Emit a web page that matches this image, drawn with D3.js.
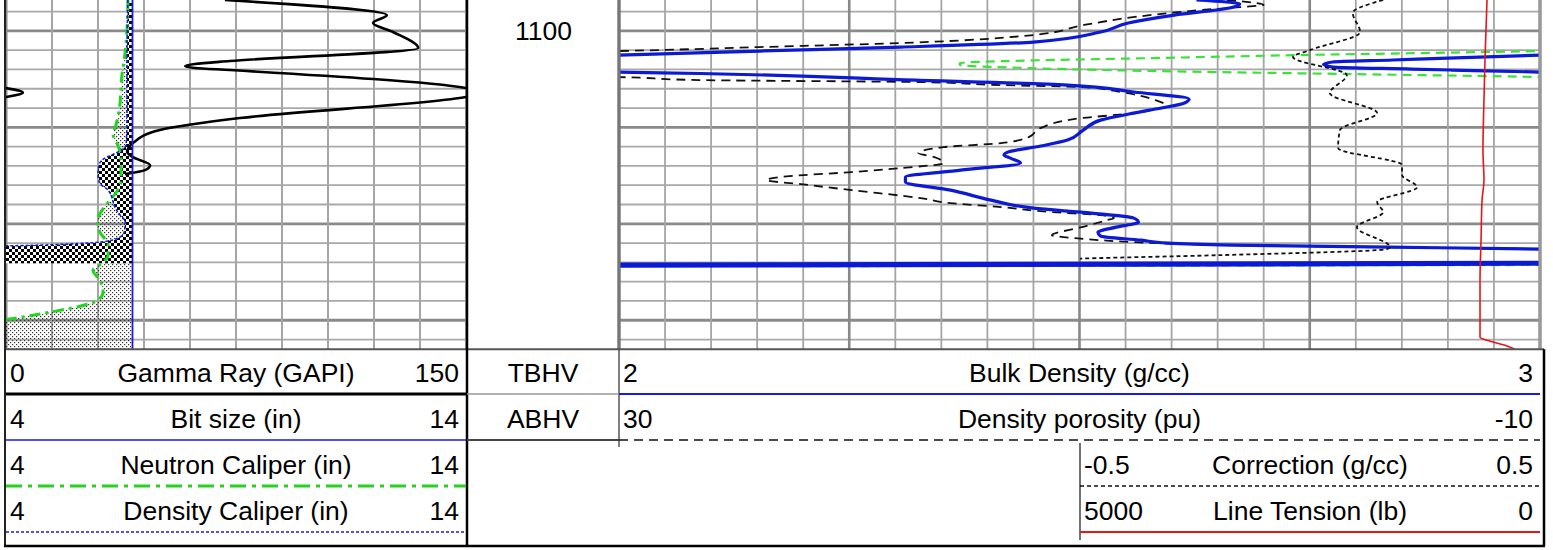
<!DOCTYPE html>
<html><head><meta charset="utf-8">
<script src="https://cdn.jsdelivr.net/npm/d3@7/dist/d3.min.js"></script>
<style>
html,body{margin:0;padding:0;background:#fff;overflow:hidden}
text{font-family:"Liberation Sans",Arial,sans-serif;font-size:26.5px;fill:#000}
</style>
</head><body>
<svg id="c" width="1553" height="550"></svg>
<script>
// ---------------- DATA ----------------
const depthRange = [1096.8, 1133.0];
const depthLabels = [1100];

// [depth (ft), value]
const gammaRay = [
  [1096.80,71.4],[1098.36,124.2],[1099.19,119.7],[1100.12,126.2],[1101.78,134.4],
  [1103.13,73.0],[1103.44,61.6],[1103.65,58.4],[1103.85,61.6],[1104.06,73.0],
  [1105.93,150.0],[1106.40,155.5],[1106.86,150.0],[1109.04,76.3],[1110.28,50.2],
  [1111.63,41.4],[1112.57,39.5],[1113.09,41.4],[1113.92,47.0],[1114.43,45.3],[1114.85,38.8]
];
const bitSize = [[1096.8,6.75],[1133.0,6.75]];
const densityCaliper = [
  [1096.80,6.65],[1103.02,6.63],[1109.25,6.63],[1111.84,6.61],[1112.57,6.43],
  [1113.19,6.15],[1113.92,6.02],[1114.95,6.00],[1115.78,6.04],[1116.51,6.22],
  [1117.23,6.30],[1118.07,6.35],[1118.79,6.43],[1119.83,6.59],[1120.87,6.57],
  [1121.49,6.43],[1121.90,6.04],[1122.21,4.74],[1122.42,3.00],[1124.08,3.00]
];
const neutronCaliper = [
  [1096.80,6.65],[1099.91,6.63],[1103.02,6.57],[1104.58,6.52],[1106.14,6.50],
  [1108.21,6.46],[1109.77,6.39],[1110.80,6.33],[1111.84,6.43],[1113.40,6.50],
  [1115.47,6.50],[1116.51,6.43],[1117.55,6.26],[1118.58,6.09],[1119.83,5.98],
  [1120.87,6.04],[1122.21,6.22],[1123.25,6.22],[1124.08,6.09],[1124.81,5.89],
  [1125.84,6.04],[1127.09,6.11],[1127.92,6.00],[1128.54,5.61],[1129.16,4.96],
  [1129.79,4.20],[1130.20,3.65],[1133.00,3.65]
];
const bulkDensity = [
  [1096.80,2.627],[1097.21,2.674],[1097.63,2.663],[1098.36,2.603],[1099.19,2.553],
  [1100.12,2.523],[1101.16,2.450],[1101.68,2.306],[1102.09,2.153],[1102.51,2.000],
  [1102.82,1.900],[1103.02,1.840],[1103.23,1.775],[1103.49,1.765],[1103.75,1.775],
  [1103.96,1.860],[1104.06,1.904],[1104.27,2.000],[1104.42,2.088],[1105.10,2.322],
  [1105.62,2.487],[1106.34,2.559],[1107.07,2.619],[1107.48,2.614],[1108.00,2.589],
  [1108.52,2.559],[1109.25,2.523],[1110.28,2.504],[1111.32,2.487],[1111.94,2.458],
  [1112.57,2.422],[1112.88,2.418],[1113.19,2.425],[1113.71,2.436],[1114.43,2.371],
  [1115.16,2.311],[1115.68,2.311],[1116.51,2.360],[1117.55,2.404],[1118.38,2.450],
  [1118.89,2.513],[1119.41,2.559],[1119.83,2.564],[1120.35,2.540],[1120.87,2.520],
  [1121.28,2.523],[1121.70,2.567],[1122.01,2.596],[1122.21,2.665],[1122.42,2.836],
  [1122.63,3.000],[1122.84,3.060],[1123.98,3.060],[1124.39,1.000]
];
const densityPorosity = [
  [1096.80,3.6],[1097.32,2.0],[1097.53,3.0],[1097.84,4.7],[1098.56,7.6],[1099.39,9.8],
  [1100.43,12.0],[1101.26,17.8],[1101.68,23.9],[1102.09,30.0],[1102.51,40.5],
  [1102.82,46.8],[1103.13,53.2],[1103.34,55.2],[1103.54,55.2],[1103.85,52.3],
  [1104.16,46.9],[1104.48,38.2],[1104.79,30.0],[1105.10,26.5],[1105.31,16.9],
  [1105.62,13.4],[1105.82,9.9],[1106.34,8.2],[1107.17,6.7],[1107.80,6.2],
  [1108.21,6.9],[1108.52,7.6],[1109.04,9.9],[1110.08,11.7],[1111.01,12.2],
  [1111.63,13.4],[1112.05,15.9],[1112.67,17.0],[1113.09,16.3],[1113.71,15.9],
  [1114.23,17.8],[1114.64,19.9],[1115.06,22.6],[1115.47,23.6],[1115.89,22.1],
  [1116.51,19.9],[1117.34,16.9],[1117.86,15.6],[1118.27,13.4],[1118.79,11.2],
  [1119.10,9.1],[1119.41,8.5],[1119.62,8.8],[1120.35,9.9],[1121.18,11.2],
  [1121.49,10.2],[1121.70,9.1],[1121.90,7.6],[1122.21,3.4],[1122.42,-3.4],
  [1122.63,-10.1],[1122.84,-12.0],[1123.98,-12.0],[1124.39,62.0]
];
const correction = [
  [1096.80,0.159],[1098.15,0.093],[1100.12,0.109],[1101.99,0.000],[1102.71,-0.037],
  [1104.58,0.080],[1106.45,0.043],[1108.52,0.146],[1110.28,0.065],[1112.15,0.061],
  [1113.92,0.200],[1114.95,0.200],[1116.20,0.233],[1117.75,0.146],[1118.79,0.159],
  [1120.35,0.102],[1122.42,0.174],[1122.63,0.167],[1123.25,-0.196],[1123.61,-0.500],
  [1123.77,-0.600]
];
const lineTension = [
  [1096.80,576],[1099.91,587],[1103.02,598],[1107.17,609],[1112.36,620],[1115.47,609],
  [1117.55,630],[1121.70,641],[1125.84,652],[1129.99,652],[1131.76,652],[1132.17,543],
  [1132.59,380],[1133.00,272]
];

const leftHeader = [["0","Gamma Ray (GAPI)","150"],["4","Bit size (in)","14"],
                    ["4","Neutron Caliper (in)","14"],["4","Density Caliper (in)","14"]];
const midHeader = ["TBHV","ABHV"];
const rightHeader = [["2","Bulk Density (g/cc)","3"],["30","Density porosity (pu)","-10"]];
const halfHeader = [["-0.5","Correction (g/cc)","0.5"],["5000","Line Tension (lb)","0"]];

// ---------------- LAYOUT ----------------
const svg = d3.select("#c");
const LT = {x0:6, x1:466}, RT = {x0:619, x1:1540}, HT = {x0:1080, x1:1540};
const PB = 349.2;
const y = d3.scaleLinear().domain(depthRange).range([0, PB]);
const grX = d3.scaleLinear().domain([0,150]).range([LT.x0, LT.x1]);
const calX = d3.scaleLinear().domain([4,14]).range([LT.x0, LT.x1]);
const rhobX = d3.scaleLinear().domain([2,3]).range([RT.x0, RT.x1]);
const dphiX = d3.scaleLinear().domain([30,-10]).range([RT.x0, RT.x1]);
const drhoX = d3.scaleLinear().domain([-0.5,0.5]).range([HT.x0, HT.x1]);
const tensX = d3.scaleLinear().domain([5000,0]).range([HT.x0, HT.x1]);

const defs = svg.append("defs");
function clip(id, x0, x1){
  defs.append("clipPath").attr("id", id).append("rect")
    .attr("x", x0).attr("y", 0).attr("width", x1 - x0).attr("height", PB);
}
clip("clipL", LT.x0, LT.x1); clip("clipR", RT.x0, RT.x1); clip("clipH", HT.x0, HT.x1);

const chk = defs.append("pattern").attr("id","chk").attr("patternUnits","userSpaceOnUse")
  .attr("width",6).attr("height",6);
chk.append("rect").attr("width",6).attr("height",6).attr("fill","#fff");
chk.append("rect").attr("width",3).attr("height",3).attr("fill","#000");
chk.append("rect").attr("x",3).attr("y",3).attr("width",3).attr("height",3).attr("fill","#000");
const stp = defs.append("pattern").attr("id","stp").attr("patternUnits","userSpaceOnUse")
  .attr("width",4).attr("height",4);
stp.append("rect").attr("x",0).attr("y",0).attr("width",1.2).attr("height",1.2).attr("fill","#333");
stp.append("rect").attr("x",2).attr("y",2).attr("width",1.2).attr("height",1.2).attr("fill","#333");

svg.append("rect").attr("width",1553).attr("height",550).attr("fill","#fff");

// ---------------- GRID ----------------
const grid = svg.append("g");
const hTicks = d3.range(1098, 1133, 2);
function hGrid(x0, x1){
  grid.selectAll(null).data(hTicks).enter().append("line")
    .attr("x1", x0).attr("x2", x1).attr("y1", d=>y(d)).attr("y2", d=>y(d))
    .attr("stroke", d=> d%10===0 ? "#8a8a8a" : "#a9a9a9")
    .attr("stroke-width", d=> d%10===0 ? 2.8 : 1.8);
}
hGrid(LT.x0, LT.x1); hGrid(RT.x0, RT.x1);
const grTicks = d3.range(0, 151, 15);
grid.selectAll(null).data(grTicks).enter().append("line")
  .attr("x1", d=>grX(d)).attr("x2", d=>grX(d)).attr("y1", 0).attr("y2", PB)
  .attr("stroke", "#a5a5a5").attr("stroke-width", 2);
const rTicks = d3.range(0, 21);
grid.selectAll(null).data(rTicks).enter().append("line")
  .attr("x1", d=>rhobX(2 + d*0.05)).attr("x2", d=>rhobX(2 + d*0.05)).attr("y1", 0).attr("y2", PB)
  .attr("stroke", d=> d%5===0 ? "#888" : "#a5a5a5")
  .attr("stroke-width", d=> (d===0||d===20) ? 3 : (d%5===0 ? 2.6 : 1.8));
grid.append("line").attr("x1",LT.x0).attr("x2",LT.x0).attr("y1",0).attr("y2",PB)
  .attr("stroke","#8a8a8a").attr("stroke-width",3);

// ---------------- LEFT TRACK ----------------
const gL = svg.append("g").attr("clip-path","url(#clipL)");
const lineOf = fx => d3.line().x(d=>fx(d[1])).y(d=>y(d[0])).curve(d3.curveMonotoneY);
const areaOf = (data, fx) => d3.area().y(d=>y(d[0]))
   .x0(d=>fx(Math.min(d[1], bitSize[0][1]))).x1(()=>fx(bitSize[0][1])).curve(d3.curveMonotoneY)(data);

gL.append("path").attr("d", areaOf(neutronCaliper, calX)).attr("fill","url(#stp)");
gL.append("path").attr("d", areaOf(densityCaliper, calX)).attr("fill","url(#chk)");

gL.append("path").attr("d", lineOf(grX)(gammaRay)).attr("fill","none")
  .attr("stroke","#000").attr("stroke-width",2.6);
gL.append("path").attr("d", lineOf(v=>grX(v-150))(gammaRay)).attr("fill","none")
  .attr("stroke","#000").attr("stroke-width",2.6);
gL.append("path").attr("d", lineOf(calX)(neutronCaliper)).attr("fill","none")
  .attr("stroke","#22d322").attr("stroke-width",3).attr("stroke-dasharray","11,5,3,5");
gL.append("path").attr("d", lineOf(calX)(densityCaliper)).attr("fill","none")
  .attr("stroke","#1020e0").attr("stroke-width",1.6).attr("stroke-dasharray","3,2");
gL.append("path").attr("d", lineOf(calX)(bitSize)).attr("fill","none")
  .attr("stroke","#1a1ae6").attr("stroke-width",1.8);

// ---------------- RIGHT TRACK ----------------
const gR = svg.append("g").attr("clip-path","url(#clipR)");
const gH = svg.append("g").attr("clip-path","url(#clipH)");
gH.append("path").attr("d", lineOf(tensX)(lineTension)).attr("fill","none")
  .attr("stroke","#e8141a").attr("stroke-width",1.6);
gH.append("path").attr("d", lineOf(drhoX)(correction)).attr("fill","none")
  .attr("stroke","#111").attr("stroke-width",1.8).attr("stroke-dasharray","4,3");
gR.append("path").attr("d", lineOf(v=>dphiX(v-40))(densityPorosity)).attr("fill","none")
  .attr("stroke","#3ae23a").attr("stroke-width",2.2).attr("stroke-dasharray","9,6");
gR.append("path").attr("d", lineOf(dphiX)(densityPorosity)).attr("fill","none")
  .attr("stroke","#111").attr("stroke-width",1.8).attr("stroke-dasharray","9,6");
gR.append("path").attr("d", lineOf(rhobX)(bulkDensity)).attr("fill","none")
  .attr("stroke","#0c1ad6").attr("stroke-width",3.2);
gR.append("path").attr("d", lineOf(v=>rhobX(v+1))(bulkDensity)).attr("fill","none")
  .attr("stroke","#0c1ad6").attr("stroke-width",3.2);

// depth label
svg.selectAll(null).data(depthLabels).enter().append("text")
  .attr("x", (LT.x1 + RT.x0)/2 + 1).attr("y", d=>y(d)).attr("dy","0.36em")
  .attr("text-anchor","middle").text(d=>d);

// ---------------- FRAME / HEADER ----------------
const fr = svg.append("g");
function ln(x1,y1,x2,y2,c,w,dash){
  const l = fr.append("line").attr("x1",x1).attr("y1",y1).attr("x2",x2).attr("y2",y2)
    .attr("stroke",c).attr("stroke-width",w);
  if(dash) l.attr("stroke-dasharray",dash);
  return l;
}
ln(RT.x0,0,RT.x0,PB,"#777",3);
ln(RT.x1,0,RT.x1,PB,"#999",3);
ln(5,PB,1544,PB,"#555",2);
ln(467,0,467,546,"#000",2.5);
ln(5,0,5,546,"#222",2);
ln(4,546,1545,546,"#000",2.5);
ln(1544,PB,1544,546,"#000",2.5);
ln(RT.x0,PB,RT.x0,447,"#555",1.5);
ln(HT.x0,443,HT.x0,540,"#444",1.5);

const rowY = [349, 395, 441, 487];
// row lines
ln(6,394,466,394,"#000",3);
ln(467,394,619,394,"#999",1.5);
ln(619,394,1540,394,"#1a1ae6",2);
ln(6,440,466,440,"#1a1ae6",1.5);
ln(467,440,619,440,"#444",2);
ln(619,440,1540,440,"#111",1.6,"9,6");
ln(6,486,466,486,"#22d322",3,"16,6,4,6");
ln(HT.x0,486,1540,486,"#111",1.6,"4,3");
ln(6,532,466,532,"#1a1ae6",1.6,"3,2");
ln(HT.x0,532,1540,532,"#e8141a",2);

const ht = svg.append("g");
function hdr(rows, x0, x1, startRow){
  rows.forEach((r,i)=>{
    const by = rowY[startRow+i] + 33;
    ht.append("text").attr("x", x0+4).attr("y", by).text(r[0]);
    ht.append("text").attr("x", (x0+x1)/2).attr("y", by).attr("text-anchor","middle").text(r[1]);
    ht.append("text").attr("x", x1-7).attr("y", by).attr("text-anchor","end").text(r[2]);
  });
}
hdr(leftHeader, 6, 466, 0);
hdr(rightHeader, 619, 1540, 0);
hdr(halfHeader, HT.x0, 1540, 2);
midHeader.forEach((t,i)=>{
  ht.append("text").attr("x", 543).attr("y", rowY[i]+33).attr("text-anchor","middle").text(t);
});
</script>
</body></html>
